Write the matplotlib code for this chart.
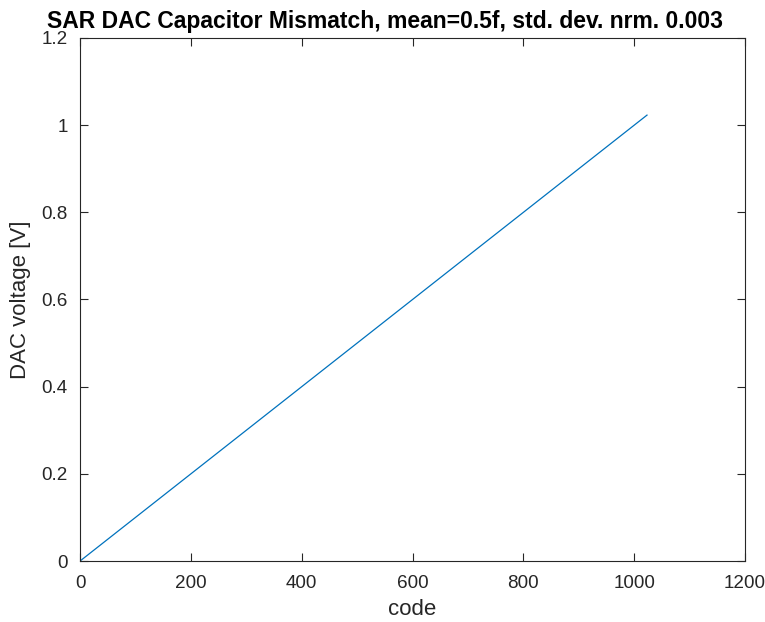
import matplotlib
matplotlib.use("Agg")
import matplotlib.pyplot as plt

# points (straight line, code 0..1023)
code = [0, 200, 400, 600, 800, 1023]
volt = [0.0, 0.2, 0.4, 0.6, 0.8, 1.023]

x_ticks = [0, 200, 400, 600, 800, 1000, 1200]
y_ticks = [0, 0.2, 0.4, 0.6, 0.8, 1, 1.2]

plt.rcParams.update({
    "font.family": ["Liberation Sans", "DejaVu Sans"],
    "font.size": 13.6,
})

fig = plt.figure(figsize=(7.65, 6.22), dpi=100)
ax = fig.add_axes([0.1046, 0.098, 0.8694, 0.841])

ax.plot(code, volt, color="#0072BD", linewidth=0.9)

ax.set_xlim(0, 1200)
ax.set_ylim(0, 1.2)
ax.set_xticks(x_ticks)
ax.set_xticklabels([str(t) for t in x_ticks])
ax.set_yticks(y_ticks)
ax.set_yticklabels(["0", "0.2", "0.4", "0.6", "0.8", "1", "1.2"])

dark = "#262626"
for s in ax.spines.values():
    s.set_color(dark)
    s.set_linewidth(0.8)
ax.tick_params(direction="in", top=True, right=True, length=6, width=0.8,
               colors=dark, labelsize=13.6)
ax.tick_params(axis="x", pad=10)
ax.tick_params(axis="y", pad=9)

ax.set_xlabel("code", fontsize=16, color=dark, labelpad=5)
ax.set_ylabel("DAC voltage [V]", fontsize=16, color=dark, labelpad=7)
ax.set_title("SAR DAC Capacitor Mismatch, mean=0.5f, std. dev. nrm. 0.003",
             fontsize=16.5, fontweight="bold", color="black", pad=7, x=0.458)

fig.savefig("out.png", dpi=100, facecolor="white")
